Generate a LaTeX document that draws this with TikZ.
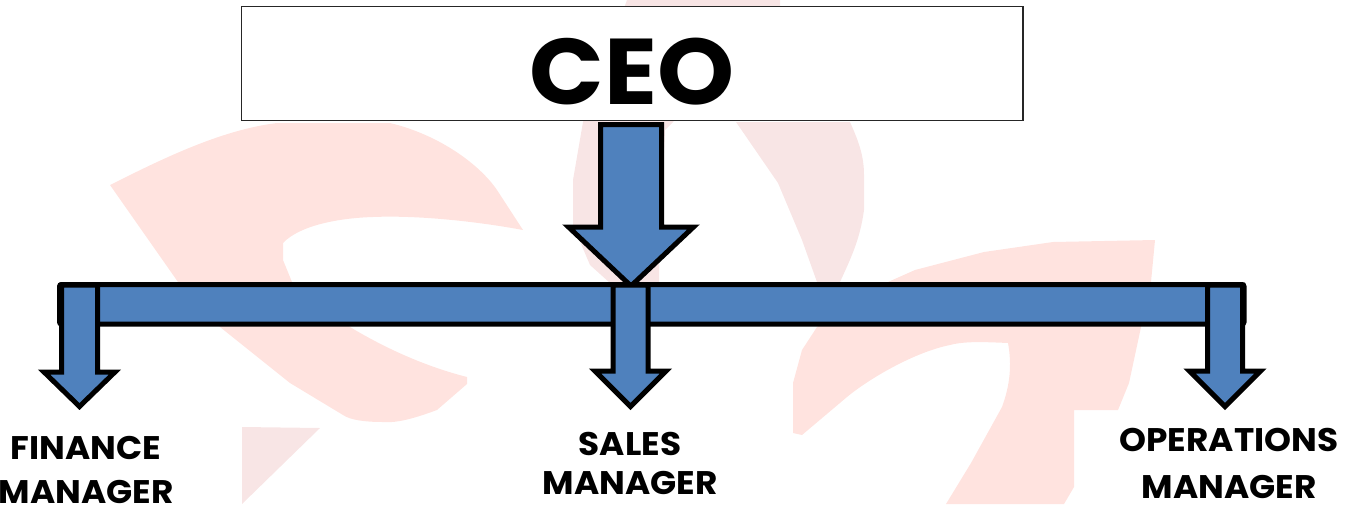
\documentclass[tikz,border=0pt]{standalone}
\usepackage{fontspec}
\setmainfont{Poppins}[FakeStretch=1.05]
\definecolor{wmA}{HTML}{FFE3DF}
\definecolor{wmB}{HTML}{F8E5E5}
\definecolor{arrowblue}{HTML}{4F81BD}
\tikzset{
  blockshape/.style={draw=black,fill=arrowblue,line width=3.75pt,miter limit=10,line join=miter},
  ceobox/.style={draw=black!85,fill=white,line width=0.8pt,minimum width=781.5*0.75pt,minimum height=114.5*0.75pt,inner sep=0pt,
     font=\fontsize{70}{70}\selectfont\bfseries},
  rolelabel/.style={align=center,inner sep=0pt,text=black,font=\fontsize{24.5}{33}\selectfont\bfseries},
}
% #1 centre x, #2 top y, #3 half shaft, #4 shoulder y, #5 half head, #6 tip y
\newcommand{\blockarrow}[6]{%
  \draw[blockshape] (#1-#3,#2) -- (#1+#3,#2) -- (#1+#3,#4) -- (#1+#5,#4) -- (#1,#6)
     -- (#1-#5,#4) -- (#1-#3,#4) -- cycle;}
\begin{document}
\begin{tikzpicture}[x=0.75pt,y=-0.75pt]
\useasboundingbox (0,0) rectangle (1359,504);
\clip (0,0) rectangle (1359,504);
% watermark
\fill[wmA] (110,185) .. controls (160,160) and (220,130) .. (277,123) -- (390,123)
  .. controls (440,135) and (480,165) .. (497,190) -- (523,230)
  .. controls (480,222) and (420,215) .. (373,217) .. controls (340,218) and (300,225) .. (283,243)
  -- (283,260) -- (292,282) -- (350,327) .. controls (380,345) and (420,365) .. (467,377) -- (467,384)
  -- (437,410) .. controls (410,420) and (395,423) .. (383,422) .. controls (365,422) and (350,420) .. (343,415)
  -- (290,383) -- (220,327) -- (178,282) -- cycle;
\fill[wmB] (242,427) -- (320,428) -- (242,504) -- cycle;
\fill[wmB] (736,122) -- (850,122) .. controls (858,140) and (864,155) .. (864,175) -- (864,210)
  .. controls (860,240) and (850,260) .. (840,282) -- (817,282) -- (802,240) -- (778,183) -- cycle;
\fill[wmB] (627,0) -- (780,0) -- (780,8) -- (673,122) -- (665,130) -- (659,267) -- (659,283) -- (610,283)
  -- (590,265) -- (573,225) -- (573,180) -- (583,122) -- cycle;
\fill[wmA] (1155,240) -- (1151,282) -- (1141,327) -- (1129,383) -- (1118,410) -- (1074,410) -- (1074,487)
  -- (1064,504) -- (946,504) -- (971,463) -- (1002,407) .. controls (1010,385) and (1012,365) .. (1008,343)
  .. controls (985,342) and (965,341) .. (950,345) .. controls (915,352) and (870,378) .. (847,397)
  -- (802,435) -- (793,433) -- (793,383) -- (802,350) -- (817,327) -- (888,282) -- (915,270) -- (984,252)
  -- (1053,242) -- cycle;
% central arrow and bar
\blockarrow{631}{124.5}{30.5}{227}{62.5}{286}
\draw[blockshape,rounded corners=1.5pt] (59.5,284.5) rectangle (1244,324);
\blockarrow{79.5}{285}{18}{372}{35.5}{406.5}
\blockarrow{630.5}{285}{17.5}{371}{35.5}{406.5}
\blockarrow{1225}{285}{17.5}{371}{35.5}{406.5}
% labels
\node[ceobox] (ceo) at (632.25,63.5) {\raisebox{-31pt}[0pt][0pt]{CEO}};
\node[rolelabel] (finance) at (86,470) {FINANCE\\MANAGER};
\node[rolelabel] (sales) at (630,463.5) {SALES\\[-4pt]MANAGER};
\node[rolelabel] (operations) at (1229,463.5) {OPERATIONS\\[2pt]MANAGER};
\end{tikzpicture}
\end{document}
